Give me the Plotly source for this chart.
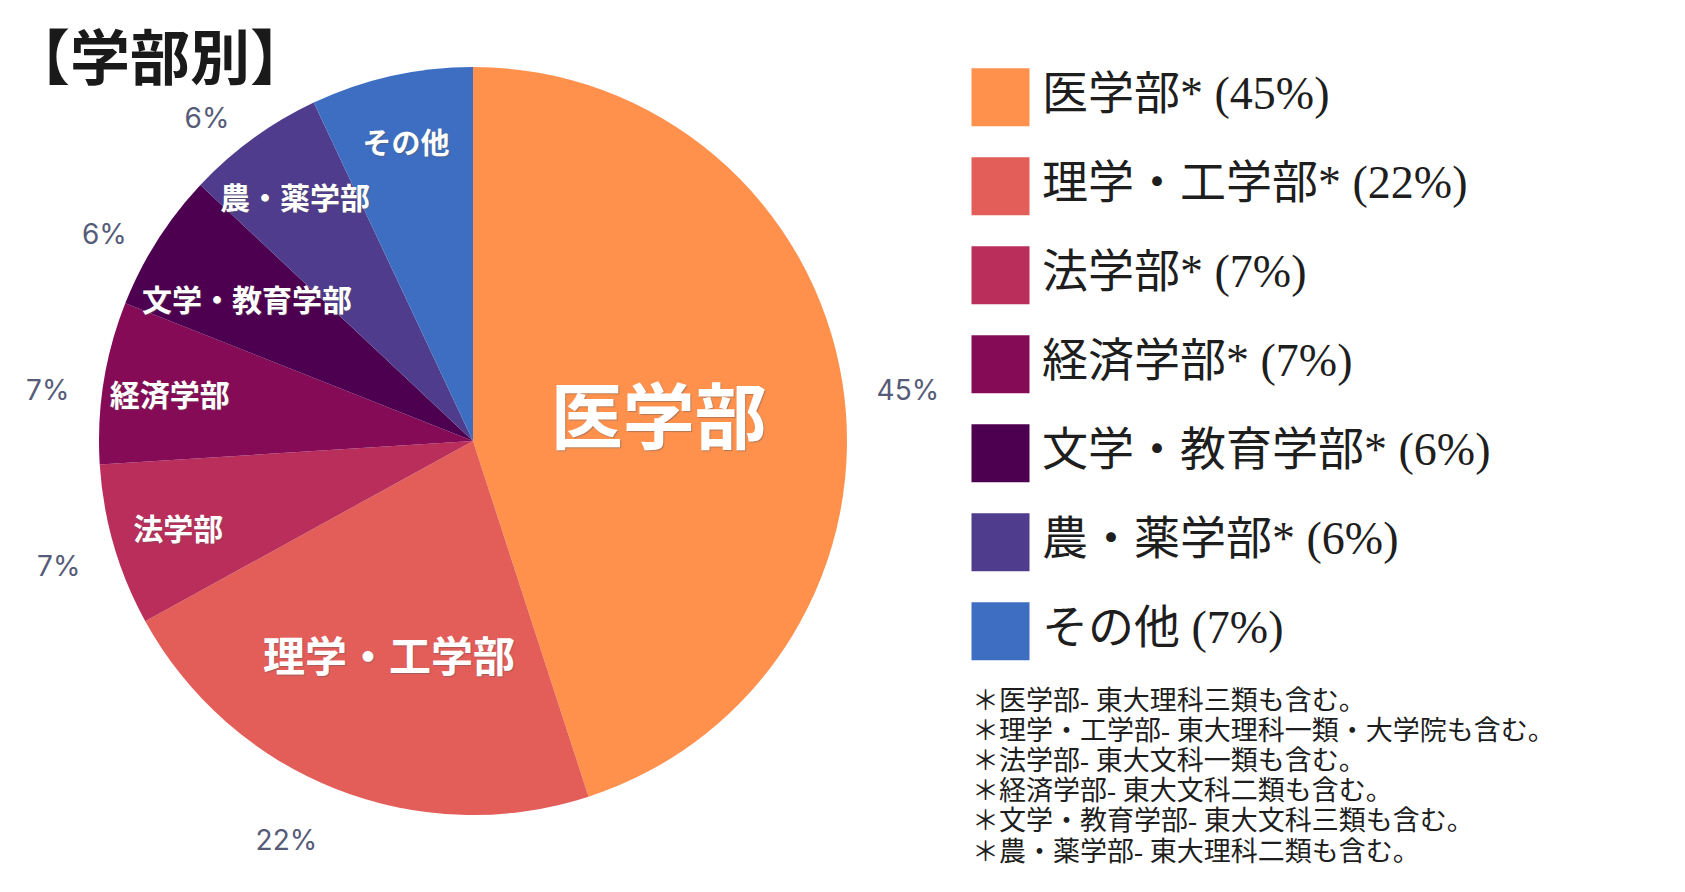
import math
import plotly.graph_objects as go

# ---------------- data ----------------
categories = ["医学部", "理学・工学部", "法学部", "経済学部", "文学・教育学部", "農・薬学部", "その他"]
shares = [45, 22, 7, 7, 6, 6, 7]
colors = ["#FF914D", "#E35D59", "#BA2E5B", "#860B57", "#4D0050", "#4F3C8D", "#3E6EC1"]
legend_suffix = ["*", "*", "*", "*", "*", "*", ""]
show_outside_pct = [True, True, True, True, True, True, False]
inside_sizes = [72, 42, 30, 30, 30, 30, 29]
# slices whose long names are placed freely (radius as fraction of the pie radius)
free_label_radius = {"文学・教育学部": 0.716, "農・薬学部": 0.81}
title_text = "【学部別】"
footnotes = [
    "＊医学部- 東大理科三類も含む。",
    "＊理学・工学部- 東大理科一類・大学院も含む。",
    "＊法学部- 東大文科一類も含む。",
    "＊経済学部- 東大文科二類も含む。",
    "＊文学・教育学部- 東大文科三類も含む。",
    "＊農・薬学部- 東大理科二類も含む。",
]

# ---------------- layout constants (figure pixels) ----------------
W, H = 1685, 892
CX, CY, R = 465, 433, 374          # pie centre / radius
PX, PY, R_OUT = 465, 445, 400      # circle carrying the outside % labels

CJK = "Noto Sans CJK JP"
SERIF_MIX = "Liberation Serif, Noto Sans CJK JP"
SHADOW = "1px 1px 1px rgba(90,90,90,0.45)"

fig = go.Figure()

# main pie with inside category labels
positions = ["none" if c in free_label_radius else "inside" for c in categories]
fig.add_trace(go.Pie(
    labels=categories,
    values=shares,
    sort=False,
    direction="clockwise",
    rotation=0,
    marker=dict(colors=colors, line=dict(width=0)),
    textinfo="label",
    textposition=positions,
    insidetextorientation="horizontal",
    textfont=dict(size=inside_sizes, color="white", family=CJK, weight="bold", shadow=SHADOW),
    domain=dict(x=[(CX - R) / W, (CX + R) / W], y=[1 - (CY + R) / H, 1 - (CY - R) / H]),
    showlegend=False,
    hoverinfo="label+percent",
))

# transparent pie carrying the outside percentage labels
pct_text = [f"{v}%" if s else "" for v, s in zip(shares, show_outside_pct)]
fig.add_trace(go.Pie(
    labels=categories,
    values=shares,
    sort=False,
    direction="clockwise",
    rotation=0,
    marker=dict(colors=["rgba(0,0,0,0)"] * len(shares), line=dict(width=0)),
    text=pct_text,
    textinfo="text",
    textposition="outside",
    textfont=dict(size=28, color="#565B78", family="Inter, Open Sans, Lato"),
    domain=dict(x=[(PX - R_OUT) / W, (PX + R_OUT) / W], y=[1 - (PY + R_OUT) / H, 1 - (PY - R_OUT) / H]),
    showlegend=False,
    hoverinfo="skip",
))

# long labels placed at their slice's mid-angle
total = sum(shares)
cum = 0.0
for c, v, size in zip(categories, shares, inside_sizes):
    mid = (cum + v / 2) / total * 2 * math.pi
    cum += v
    if c in free_label_radius:
        r = free_label_radius[c] * R
        fig.add_annotation(
            text=c, xref="paper", yref="paper",
            x=(CX + r * math.sin(mid)) / W, y=1 - (CY - r * math.cos(mid)) / H,
            xanchor="center", yanchor="middle", showarrow=False,
            font=dict(size=size, color="white", family=CJK, weight="bold", shadow=SHADOW),
        )

# custom legend: big squares + labels
rows = list(range(len(categories)))
legend_text = [f"{c}{s} ({v}%)" for c, s, v in zip(categories, legend_suffix, shares)]
fig.add_trace(go.Scatter(
    x=[0] * len(categories), y=rows, mode="markers",
    marker=dict(symbol="square", size=58, color=colors, line=dict(width=0)),
    showlegend=False, hoverinfo="skip", cliponaxis=False,
))
fig.add_trace(go.Scatter(
    x=[0.83] * len(categories), y=rows, mode="text",
    text=legend_text, textposition="middle right",
    textfont=dict(size=46, family=SERIF_MIX, color="#1E1E1E"),
    showlegend=False, hoverinfo="skip", cliponaxis=False,
))

fig.add_annotation(
    text=title_text, xref="paper", yref="paper",
    x=0, y=1, xanchor="left", yanchor="top", showarrow=False,
    font=dict(size=60, family=CJK, color="#1A1A1A", weight="bold"),
)

for i, line in enumerate(footnotes):
    fig.add_annotation(
        text=line, xref="paper", yref="paper",
        x=962 / W, y=1 - (692.6 + 30.2 * i) / H, xanchor="left", yanchor="middle",
        align="left", showarrow=False,
        font=dict(size=27, family=SERIF_MIX, color="#1E1E1E"),
    )

fig.update_layout(
    width=W, height=H,
    margin=dict(l=0, r=0, t=0, b=0),
    paper_bgcolor="white", plot_bgcolor="rgba(0,0,0,0)",
    xaxis=dict(domain=[0.55, 1.0], range=[-1.315, 13.85], visible=False, fixedrange=True),
    yaxis=dict(domain=[0, 1], range=[9.019, -1.003], visible=False, fixedrange=True),
)

fig.write_html("out.html")
